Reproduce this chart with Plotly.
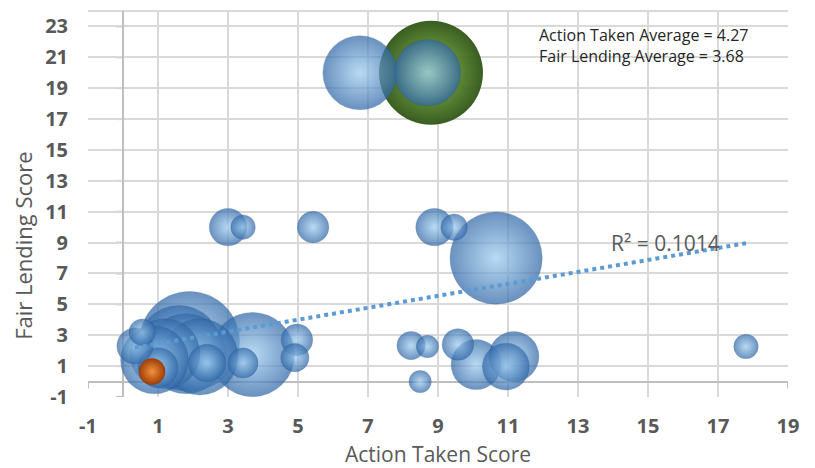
import plotly.graph_objects as go

# ---------------- data ----------------
# blue series (action taken score, fair lending score, bubble size)
blue_x = [6.77, 8.70, 3.00, 3.43, 5.43, 8.90, 9.46, 10.66,
          8.23, 8.70, 8.49, 9.57, 10.09, 11.17, 10.94, 17.80,
          1.90, 3.70, 1.60, 1.80, 2.20, 1.20, 0.90, 0.34, 0.55,
          1.00, 2.40, 3.43, 4.97, 4.91]
blue_y = [20.0, 20.0, 10.0, 10.0, 10.0, 10.0, 10.0, 8.0,
          2.33, 2.27, 0.0, 2.40, 1.10, 1.62, 0.97, 2.27,
          2.60, 1.75, 2.20, 1.80, 1.60, 1.80, 1.40, 2.30, 3.20,
          0.90, 1.20, 1.20, 2.70, 1.55]
blue_s = [55, 44, 14, 6, 10, 14, 7, 85,
          8, 5, 5, 10, 25, 25, 22, 6,
          100, 71, 71, 64, 58, 49, 46, 13, 7,
          16, 14, 9, 10, 8]

# highlighted series
green_x = [8.80]
green_y = [20.0]
green_s = [108]

orange_x = [0.83]
orange_y = [0.65]
orange_s = [7]

# linear trend line (from chart)
trend_slope = 0.387
trend_intercept = 2.07
r_squared = "R² = 0.1014"

action_avg = 4.27
fair_avg = 3.68

x_ticks = list(range(-1, 20, 2))
y_ticks = list(range(-1, 24, 2))
x_tick_labels = [str(t) for t in x_ticks]
y_tick_labels = [str(t) for t in y_ticks]

# ---------------- figure ----------------
SIZEREF = 0.02
GRID = "#d9d9d9"
AXIS = "#bfbfbf"
TXT = "#595959"
FONT = "Open Sans"

order = sorted(range(len(blue_x)), key=lambda i: -blue_s[i])

fig = go.Figure()

fig.add_trace(go.Scatter(
    x=green_x, y=green_y, mode="markers",
    marker=dict(size=green_s, sizemode="area", sizeref=SIZEREF,
                color="#2f5516", opacity=0.95,
                gradient=dict(type="radial", color="#86ba45"),
                line=dict(width=0)),
    hoverinfo="skip", showlegend=False))

fig.add_trace(go.Scatter(
    x=[blue_x[i] for i in order], y=[blue_y[i] for i in order], mode="markers",
    marker=dict(size=[blue_s[i] for i in order], sizemode="area", sizeref=SIZEREF,
                color="#3168a8", opacity=0.72,
                gradient=dict(type="radial", color="#9fcdf0"),
                line=dict(width=0.6, color="rgba(40,80,130,0.5)")),
    hoverinfo="skip", showlegend=False))

fig.add_trace(go.Scatter(
    x=orange_x, y=orange_y, mode="markers",
    marker=dict(size=orange_s, sizemode="area", sizeref=SIZEREF,
                color="#9c3d08", opacity=1,
                gradient=dict(type="radial", color="#f2923c"),
                line=dict(width=0)),
    hoverinfo="skip", showlegend=False))

all_x = blue_x + green_x + orange_x
tx = [min(all_x), max(all_x)]
ty = [trend_slope * v + trend_intercept for v in tx]
fig.add_trace(go.Scatter(
    x=tx, y=ty, mode="lines",
    line=dict(color="#5b9bd5", width=4, dash="dot"),
    hoverinfo="skip", showlegend=False))

shapes = []
# top border of plot area
shapes.append(dict(type="line", xref="paper", yref="paper", x0=0, x1=1, y0=1, y1=1,
                   line=dict(color=GRID, width=2), layer="below"))
# tick marks on the zero axes
for t in x_ticks:
    shapes.append(dict(type="line", xref="x", yref="y", ysizemode="pixel", yanchor=0,
                       x0=t, x1=t, y0=0, y1=-7, line=dict(color=AXIS, width=2), layer="below"))
for t in y_ticks:
    shapes.append(dict(type="line", xref="x", yref="y", xsizemode="pixel", xanchor=0,
                       y0=t, y1=t, x0=-7, x1=0, line=dict(color=AXIS, width=2), layer="below"))

fig.update_layout(
    width=807, height=460,
    margin=dict(l=80, r=27, t=3, b=71),
    paper_bgcolor="white", plot_bgcolor="white",
    font=dict(family=FONT, color=TXT),
    shapes=shapes,
    xaxis=dict(range=[-1, 19], tickvals=x_ticks, ticktext=x_tick_labels,
               showgrid=True, gridcolor=GRID, gridwidth=2,
               zeroline=True, zerolinecolor=AXIS, zerolinewidth=2, showline=False, ticks="",
               tickfont=dict(family=FONT, size=20, color=TXT, weight="bold"),
               ticklabelstandoff=15),
    yaxis=dict(range=[-1, 24], tickvals=y_ticks, ticktext=y_tick_labels,
               showgrid=True, gridcolor=GRID, gridwidth=2,
               zeroline=True, zerolinecolor=AXIS, zerolinewidth=2, showline=False, ticks="",
               tickfont=dict(family=FONT, size=20, color=TXT, weight="bold"),
               ticklabelstandoff=19),
    annotations=[
        dict(text="Action Taken Score", xref="paper", yref="paper", x=0.5, y=-0.148,
             xanchor="center", yanchor="middle", showarrow=False,
             font=dict(family=FONT, size=21, color=TXT)),
        dict(text="Fair Lending Score", xref="paper", yref="paper", x=-0.093, y=0.394,
             xanchor="center", yanchor="middle", textangle=-90, showarrow=False,
             font=dict(family=FONT, size=22, color=TXT)),
        dict(text=r_squared, xref="x", yref="y", x=15.5, y=8.95,
             xanchor="center", yanchor="middle", showarrow=False,
             font=dict(family=FONT, size=21, color=TXT)),
        dict(text=f"Action Taken Average = {action_avg:.2f}<br>Fair Lending Average = {fair_avg:.2f}",
             xref="paper", yref="paper", x=0.642, y=0.9106, xanchor="left", yanchor="middle",
             align="left", showarrow=False,
             font=dict(family=FONT, size=16, color="#262626")),
    ],
)

fig.write_html("out.html")
